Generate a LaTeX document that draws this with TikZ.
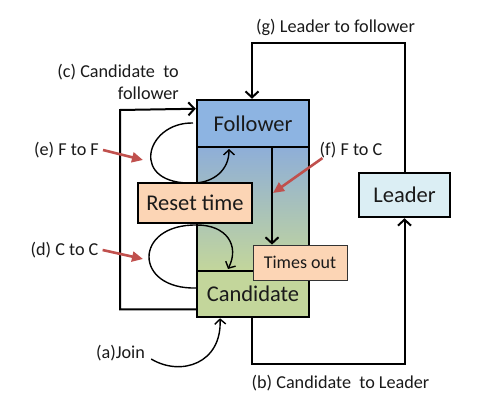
\documentclass[tikz,border=0pt]{standalone}
\usepackage{fontspec}
\setmainfont{Carlito}
\usetikzlibrary{arrows.meta,calc}
\definecolor{fblue}{HTML}{8DB4E2}
\definecolor{midtop}{HTML}{8EAED8}
\definecolor{cgreen}{HTML}{C3D69B}
\definecolor{peach}{HTML}{FCD5B5}
\definecolor{lblue}{HTML}{DBEEF4}
\definecolor{redc}{HTML}{C0504D}
\definecolor{txt}{HTML}{1A1A1A}
\begin{document}
\begin{tikzpicture}[x=1pt,y=-1pt,
  bigbox/.style={draw=black, line width=2.5pt, inner sep=0pt, text=txt,
    font=\fontsize{22.5}{26}\selectfont},
  tagbox/.style={draw=black, line width=1.8pt, fill=peach, inner sep=0pt, text=txt,
    font=\fontsize{22.5}{26}\selectfont},
  smallbox/.style={draw=black!80, line width=0.8pt, fill=peach, inner sep=0pt, text=txt,
    font=\fontsize{18}{21}\selectfont},
  lab/.style={text=txt, inner sep=1pt, font=\fontsize{18.2}{22}\selectfont},
  conn/.style={line width=2pt, -{Straight Barb[length=6pt,width=13pt,line width=2pt]}},
  loopline/.style={line width=1.4pt, -{Straight Barb[length=5pt,width=11pt,line width=1.4pt]}},
  redarrow/.style={draw=redc, line width=2.6pt, -{Triangle[length=11pt,width=10pt]}}]
\useasboundingbox (0,0) rectangle (487,420);

% middle gradient region and outer frame
\shade[top color=midtop, bottom color=cgreen] (197,147) rectangle (309,271);
\draw[line width=2.5pt] (197,100) rectangle (309,317);

% state boxes
\node[bigbox, fill=fblue, minimum width=112pt, minimum height=47pt] (follower) at (253,123.5) {Follower};
\node[bigbox, fill=cgreen, minimum width=112pt, minimum height=46pt] (candidate) at (253,294) {Candidate};
\node[bigbox, fill=lblue, minimum width=91pt, minimum height=44pt] (leader) at (404.5,195) {Leader};

% (g) leader to follower
\coordinate (gtop) at (252,43);
\draw[conn] (leader.north) |- (gtop) -- (gtop |- follower.north);

% (b) candidate to leader
\coordinate (bbot) at (252,364);
\draw[conn] (bbot |- candidate.south) -- (bbot) -| (leader.south);

% (c) candidate to follower
\coordinate (cc) at (120,110);
\draw[conn] ([yshift=9pt]candidate.south west) -| (cc) -- ([yshift=-10pt]follower.north west);

% (f) follower to candidate via timeout
\coordinate (fx) at ([xshift=19pt]follower.south);

% loops
\coordinate (ffs) at (193,123);
\coordinate (ffb) at (195,183);
\coordinate (fft) at (229,149);
\draw[loopline] (ffs) .. controls (145,122) and (128,186) .. (ffb) .. controls (214,182) and (229,170) .. (fft);
\coordinate (ccs) at (197,288);
\coordinate (cct) at (197,225);
\coordinate (cce) at (228,269);
\draw[loopline] (ccs) .. controls (133,290) and (133,224) .. (cct) .. controls (226,225) and (240,245) .. (cce);

% reset time and times out
\node[tagbox, minimum width=114pt, minimum height=40pt] (reset) at (195,203) {Reset time};
\node[smallbox, minimum width=94pt, minimum height=35pt] (timesout) at (300,262.5) {Times out};
\draw[conn] (fx) -- (fx |- timesout.north);

% labels
\node[lab] (glab) at (335.5,27) {(g) Leader to follower};
\node[lab] (blab) at (340.5,383) {(b) Candidate~ to Leader};
\node[lab, align=right, anchor=east] (clab) at (180,82) {(c) Candidate~ to\\follower};
\node[lab] (elab) at (66.5,150) {(e) F to F};
\node[lab] (dlab) at (64.5,250) {(d) C to C};
\node[lab] (flab) at (351,150) {(f) F to C};
\node[lab] (alab) at (120.5,353) {(a)Join};

% join arrow
\draw[loopline] ([xshift=5pt,yshift=-6pt]alab.east) .. controls +(30,18) and +(2,45) .. ([xshift=-33pt]candidate.south);

% red pointers
\coordinate (etip) at (143,160);
\coordinate (dtip) at (143,259);
\coordinate (ftip) at (273,193);
\draw[redarrow] ([xshift=3pt]elab.east) -- (etip);
\draw[redarrow] ([xshift=3pt]dlab.east) -- (dtip);
\draw[redarrow] ([xshift=4pt,yshift=1pt]flab.south west) -- (ftip);
\end{tikzpicture}
\end{document}
